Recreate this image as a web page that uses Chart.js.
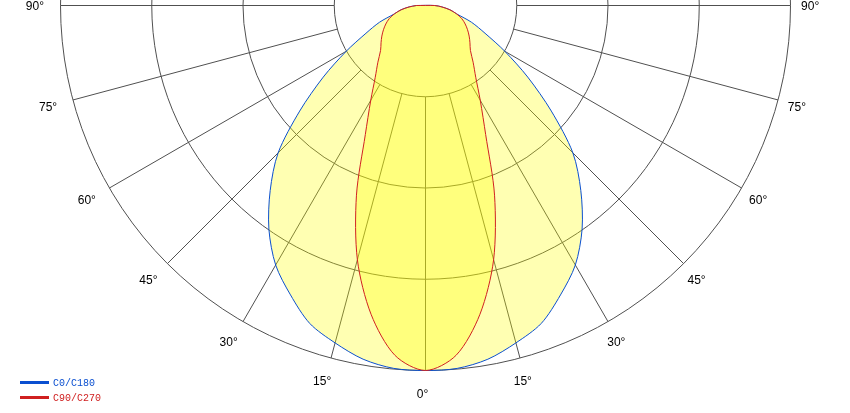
<!DOCTYPE html>
<html>
<head>
<meta charset="utf-8">
<title>Light distribution</title>
<script src="https://cdn.jsdelivr.net/npm/chart.js@4.4.1/dist/chart.umd.min.js"></script>
<style>
    html, body { margin: 0; padding: 0; background: #fff; }
    #wrap { width: 850px; height: 413px; }
</style>
</head>
<body>
<div id="wrap"><canvas id="polarChart" width="850" height="413"></canvas></div>
<script>
// gamma angles (deg from nadir) and relative intensity for both C planes
const angles = [0, 5, 10, 15, 20, 25, 30, 35, 40, 45, 50, 55, 60, 65, 70, 75, 80, 85, 90];
const c0c180 = [1.0, 0.998, 0.984, 0.957, 0.927, 0.875, 0.821, 0.748, 0.662, 0.571, 0.450, 0.342, 0.251, 0.180, 0.134, 0.088, 0.068, 0.045, 0.025];
const c90c270 = [1.0, 0.962, 0.859, 0.721, 0.553, 0.390, 0.300, 0.240, 0.203, 0.174, 0.159, 0.146, 0.133, 0.120, 0.106, 0.088, 0.068, 0.045, 0.025];

const seriesNames = ['C0/C180', 'C90/C270'];
const seriesColors = ['#0a4fd0', '#d02020'];

const rings = [0.25, 0.5, 0.75, 1];
const spokeAngles = [-90, -75, -60, -45, -30, -15, 0, 15, 30, 45, 60, 75, 90];
const tickAngles = [0, 15, 30, 45, 60, 75, 90];
const tickLabels = ['0°', '15°', '30°', '45°', '60°', '75°', '90°'];

const rad = a => a * Math.PI / 180;

function toPoints(values) {
    const left = angles.map((a, i) => ({x: -values[i] * Math.sin(rad(a)), y: -values[i] * Math.cos(rad(a))})).reverse();
    const right = angles.slice(1).map((a, i) => ({x: values[i + 1] * Math.sin(rad(a)), y: -values[i + 1] * Math.cos(rad(a))}));
    const pts = left.concat(right);
    pts.push(pts[0]);
    return pts;
}

const polarGrid = {
    id: 'polarGrid',
    beforeDatasetsDraw(chart) {
        const {ctx, scales: {x, y}} = chart;
        const cx = x.getPixelForValue(0);
        const cy = y.getPixelForValue(0);
        const unit = x.getPixelForValue(1) - cx;
        ctx.save();
        ctx.strokeStyle = '#505050';
        ctx.lineWidth = 1;
        rings.forEach(r => {
            ctx.beginPath();
            ctx.arc(cx, cy, r * unit, 0, 2 * Math.PI);
            ctx.stroke();
        });
        spokeAngles.forEach(a => {
            ctx.beginPath();
            ctx.moveTo(x.getPixelForValue(rings[0] * Math.sin(rad(a))), y.getPixelForValue(-rings[0] * Math.cos(rad(a))));
            ctx.lineTo(x.getPixelForValue(Math.sin(rad(a))), y.getPixelForValue(-Math.cos(rad(a))));
            ctx.stroke();
        });
        ctx.restore();
    },
    afterDraw(chart) {
        const {ctx, scales: {x, y}} = chart;
        const labelR = 1.062;
        ctx.save();
        ctx.fillStyle = '#000';
        ctx.font = '12px "Liberation Sans", Arial, sans-serif';
        ctx.textAlign = 'center';
        ctx.textBaseline = 'middle';
        tickAngles.forEach((a, i) => {
            const sides = a === 0 ? [1] : [-1, 1];
            sides.forEach(s => {
                const px = x.getPixelForValue(s * labelR * Math.sin(rad(a))) - 3;
                const py = y.getPixelForValue(-labelR * Math.cos(rad(a))) + 1.5;
                ctx.fillText(tickLabels[i], px, py);
            });
        });

        // legend, bottom left
        ctx.font = '10px "Liberation Mono", "DejaVu Sans Mono", monospace';
        ctx.textAlign = 'left';
        seriesNames.forEach((name, i) => {
            const ly = 382.5 + i * 15;
            ctx.fillStyle = seriesColors[i];
            ctx.fillRect(20, ly - 1.5, 29, 3);
            ctx.fillText(name, 53, ly + 0.5);
        });
        ctx.restore();
    }
};

new Chart(document.getElementById('polarChart'), {
    type: 'scatter',
    data: {
        datasets: [
            {
                label: seriesNames[0],
                data: toPoints(c0c180),
                showLine: true,
                borderColor: seriesColors[0],
                borderWidth: 1,
                backgroundColor: 'rgba(255, 255, 0, 0.3)',
                fill: 'shape',
                pointRadius: 0,
                tension: 0.3,
                order: 1
            },
            {
                label: seriesNames[1],
                data: toPoints(c90c270),
                showLine: true,
                borderColor: seriesColors[1],
                borderWidth: 1,
                backgroundColor: 'rgba(255, 255, 0, 0.3)',
                fill: 'shape',
                pointRadius: 0,
                tension: 0.3,
                order: 0
            }
        ]
    },
    options: {
        responsive: false,
        animation: false,
        layout: { padding: 0 },
        plugins: {
            legend: { display: false },
            tooltip: { enabled: false }
        },
        scales: {
            x: { type: 'linear', display: false, min: -425.5 / 365, max: 424.5 / 365 },
            y: { type: 'linear', display: false, min: -407.5 / 365, max: 5.5 / 365 }
        }
    },
    plugins: [polarGrid]
});
</script>
</body>
</html>
